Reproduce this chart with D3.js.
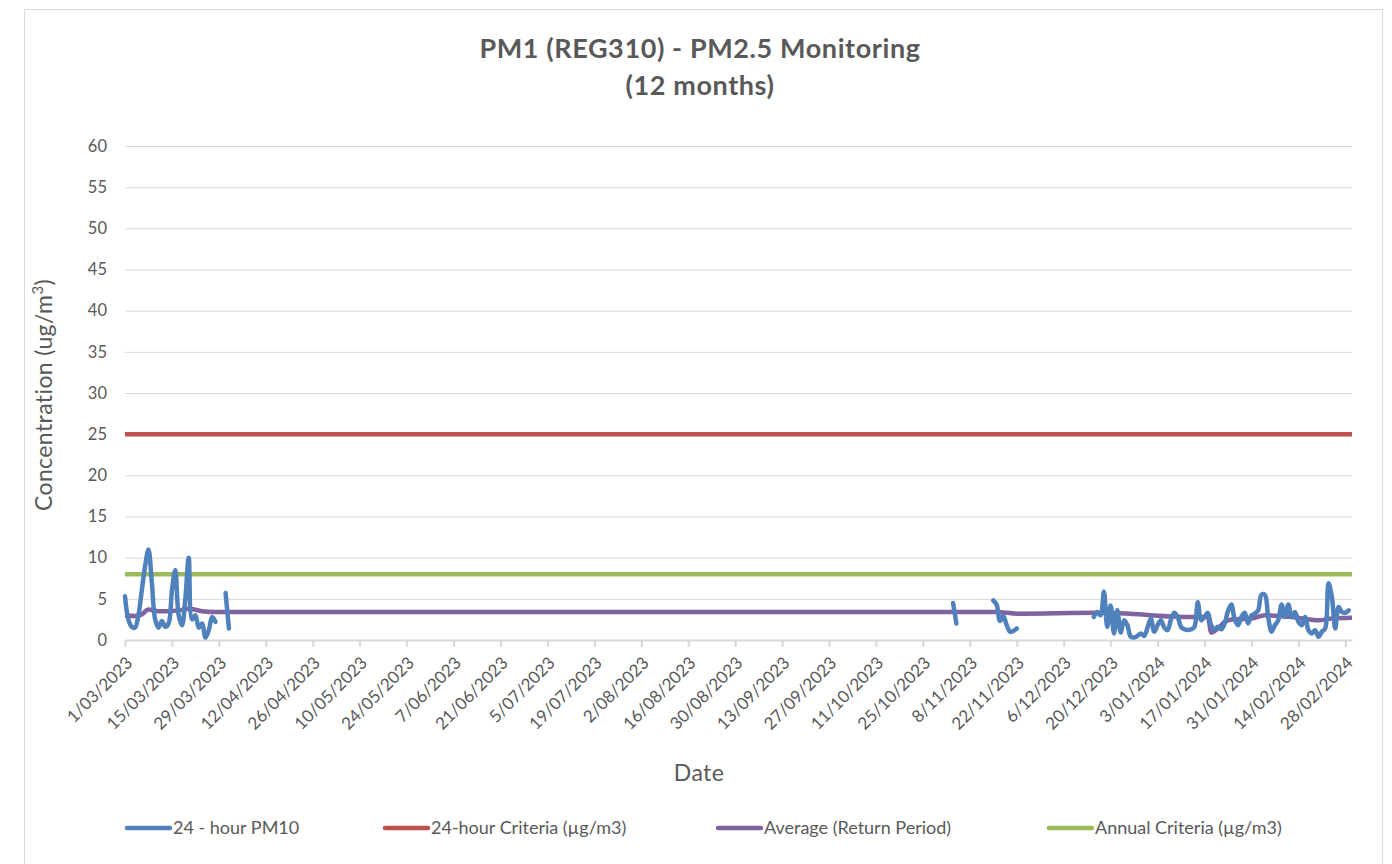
<!DOCTYPE html>
<html>
<head>
<meta charset="utf-8">
<script src="https://cdn.jsdelivr.net/npm/d3@7"></script>
<style>
  body { margin: 0; background: #fff; }
  text { font-family: Lato, "Open Sans", sans-serif; fill: #595959; }
</style>
</head>
<body>
<div class="chart_line"></div>
<script>
// tick labels on the date axis
var xTickLabels = ["1/03/2023","15/03/2023","29/03/2023","12/04/2023","26/04/2023","10/05/2023","24/05/2023",
  "7/06/2023","21/06/2023","5/07/2023","19/07/2023","2/08/2023","16/08/2023","30/08/2023","13/09/2023",
  "27/09/2023","11/10/2023","25/10/2023","8/11/2023","22/11/2023","6/12/2023","20/12/2023","3/01/2024",
  "17/01/2024","31/01/2024","14/02/2024","28/02/2024"];
var yTicks = [0,5,10,15,20,25,30,35,40,45,50,55,60];

// 24-hour PM values, stored as runs of consecutive days
var pmRunStarts = ["1/03/2023","31/03/2023","3/11/2023","15/11/2023","15/12/2023"];
var pmRun1 = [5.3,2.5,1.6,1.5,3.0,6.0,9.0,11.0,7.0,2.5,1.5,2.3,1.6,2.0,6.0,8.5,3.0,1.8,5.0,10.0,2.5,3.0,1.5,2.0,0.3,1.2,2.8,2.2];
var pmRun2 = [5.7,1.4];
var pmRun3 = [4.5,2.0];
var pmRun4 = [4.8,4.3,2.3,2.9,1.8,1.0,1.1,1.4];
var pmRun5 = [2.8,3.4,3.0,5.9,1.6,4.2,0.8,3.6,0.9,2.4,1.8,0.4,0.3,0.5,0.8,0.5,1.5,2.6,1.0,1.8,
  2.4,1.5,1.2,2.5,3.3,2.8,1.6,1.3,1.2,1.3,1.6,4.6,2.4,2.8,3.3,1.8,1.3,1.6,1.3,2.0,
  3.5,4.3,2.5,1.8,2.8,3.3,2.0,3.0,3.2,3.6,5.5,5.5,2.8,1.0,1.8,2.4,4.3,2.8,4.3,2.8,
  3.4,2.2,1.8,2.8,1.2,0.8,1.2,0.4,1.0,1.4,6.9,5.2,1.4,4.0,3.4,3.3,3.6];
var pmRuns = [pmRun1, pmRun2, pmRun3, pmRun4, pmRun5];

// average (return period)
var avgDates = ["1/03/2023","4/03/2023","6/03/2023","8/03/2023","11/03/2023","14/03/2023","17/03/2023",
  "20/03/2023","24/03/2023","28/03/2023","16/11/2023","22/11/2023","16/12/2023","26/12/2023","1/01/2024",
  "11/01/2024","18/01/2024","19/01/2024","21/01/2024","23/01/2024","25/01/2024","31/01/2024","4/02/2024",
  "12/02/2024","20/02/2024","24/02/2024","1/03/2024"];
var avgValues = [3.0,2.9,3.1,3.7,3.5,3.5,3.6,3.8,3.5,3.4,3.4,3.2,3.3,3.2,3.0,2.8,2.8,0.9,1.4,2.2,2.5,2.6,3.0,2.8,2.4,2.6,2.7];

var criteria24h = 25;
var criteriaAnnual = 8;

var seriesNames = ["24 - hour PM10","24-hour Criteria (\u00b5g/m3)","Average (Return Period)","Annual Criteria (\u00b5g/m3)"];
var seriesColors = ["#4f81bd","#c0504d","#8064a2","#9bbb59"];

function drawChart() {
  var parseDate = d3.timeParse("%d/%m/%Y");
  var W = 1392, H = 864;
  var margin = {top: 146, right: 40, bottom: 224, left: 125};
  var len = W - margin.left - margin.right;
  var hei = H - margin.top - margin.bottom;

  var svg = d3.select(".chart_line").append("svg")
    .attr("width", W)
    .attr("height", H);

  // chart frame
  svg.append("rect")
    .attr("x", 24.5).attr("y", 9.5)
    .attr("width", 1358).attr("height", 880)
    .attr("fill", "none").attr("stroke", "#d9d9d9");

  var g = svg.append("g")
    .attr("transform", "translate(" + margin.left + "," + margin.top + ")");

  var x = d3.scaleTime()
    .domain([parseDate("1/03/2023"), parseDate("1/03/2024")])
    .range([0, len]);
  var y = d3.scaleLinear().domain([0, 60]).range([hei, 0]);

  // gridlines + y axis
  var yAxis = g.append("g")
    .call(d3.axisLeft(y).tickValues(yTicks).tickSize(-len).tickPadding(18));
  yAxis.select(".domain").remove();
  yAxis.selectAll(".tick line").attr("stroke", "#d9d9d9").attr("stroke-width", 1);
  yAxis.selectAll(".tick text").attr("font-size", 16.5).style("fill", "#595959")
    .style("font-family", "Lato, 'Open Sans', sans-serif");

  // x axis
  var tickDates = xTickLabels.map(parseDate);
  var fmt = d3.timeFormat("%-d/%m/%Y");
  var xAxis = g.append("g")
    .attr("transform", "translate(0," + hei + ")")
    .call(d3.axisBottom(x).tickValues(tickDates).tickFormat(fmt).tickSize(7).tickSizeOuter(0));
  xAxis.select(".domain").attr("stroke", "#d9d9d9").attr("stroke-width", 2);
  xAxis.selectAll(".tick line").attr("stroke", "#d9d9d9").attr("stroke-width", 2);
  xAxis.selectAll(".tick text")
    .attr("font-size", 17).style("fill", "#595959")
    .style("font-family", "Lato, 'Open Sans', sans-serif")
    .attr("text-anchor", "end")
    .attr("dy", null)
    .attr("transform", "translate(1,17) rotate(-45)");

  // criteria lines
  g.append("line")
    .attr("x1", 0).attr("x2", len)
    .attr("y1", y(criteria24h)).attr("y2", y(criteria24h))
    .attr("stroke", seriesColors[1]).attr("stroke-width", 4.5);
  g.append("line")
    .attr("x1", 0).attr("x2", len)
    .attr("y1", y(criteriaAnnual)).attr("y2", y(criteriaAnnual))
    .attr("stroke", seriesColors[3]).attr("stroke-width", 4.5);

  var pmLine = d3.line()
    .x(function(d) { return x(d.date); })
    .y(function(d) { return y(d.value); })
    .curve(d3.curveCatmullRom.alpha(0.5));
  var avgLine = d3.line()
    .x(function(d) { return x(d.date); })
    .y(function(d) { return y(d.value); })
    .curve(d3.curveMonotoneX);

  // average line
  var avgData = avgDates.map(function(s, i) { return {date: parseDate(s), value: avgValues[i]}; });
  g.append("path")
    .datum(avgData)
    .attr("fill", "none")
    .attr("stroke", seriesColors[2])
    .attr("stroke-width", 4.5)
    .attr("stroke-linejoin", "round")
    .attr("d", avgLine);

  // 24-hour runs
  pmRuns.forEach(function(run, k) {
    var start = parseDate(pmRunStarts[k]);
    var pts = run.map(function(v, i) { return {date: d3.timeDay.offset(start, i), value: v}; });
    g.append("path")
      .datum(pts)
      .attr("fill", "none")
      .attr("stroke", seriesColors[0])
      .attr("stroke-width", 4.5)
      .attr("stroke-linejoin", "round")
      .attr("stroke-linecap", "round")
      .attr("d", pmLine);
  });

  // titles
  svg.append("text").attr("x", 700).attr("y", 58)
    .attr("text-anchor", "middle").attr("font-size", 27).attr("font-weight", "bold")
    .attr("letter-spacing", 0.6)
    .text("PM1 (REG310) - PM2.5 Monitoring");
  svg.append("text").attr("x", 700).attr("y", 95)
    .attr("text-anchor", "middle").attr("font-size", 27).attr("font-weight", "bold")
    .attr("letter-spacing", 0.6)
    .text("(12 months)");

  var yl = svg.append("text")
    .attr("transform", "translate(52,395) rotate(-90)")
    .attr("text-anchor", "middle").attr("font-size", 23).attr("letter-spacing", 0.4);
  yl.append("tspan").text("Concentration (ug/m");
  yl.append("tspan").attr("font-size", 15).attr("dy", -9).text("3");
  yl.append("tspan").attr("dy", 9).text(")");

  svg.append("text").attr("x", 699).attr("y", 781)
    .attr("text-anchor", "middle").attr("font-size", 23).attr("letter-spacing", 0.4)
    .text("Date");

  // legend
  var legendX = [125, 383, 716, 1047];
  var leg = svg.append("g").selectAll("g")
    .data(seriesNames).enter().append("g")
    .attr("transform", function(d, i) { return "translate(" + legendX[i] + ",828)"; });
  leg.append("line")
    .attr("x1", 2).attr("x2", 45).attr("y1", 0).attr("y2", 0)
    .attr("stroke", function(d, i) { return seriesColors[i]; })
    .attr("stroke-width", 4.5).attr("stroke-linecap", "round");
  leg.append("text")
    .attr("x", 48).attr("y", 6)
    .attr("font-size", 18)
    .text(function(d) { return d; });
}

drawChart();
</script>
</body>
</html>
